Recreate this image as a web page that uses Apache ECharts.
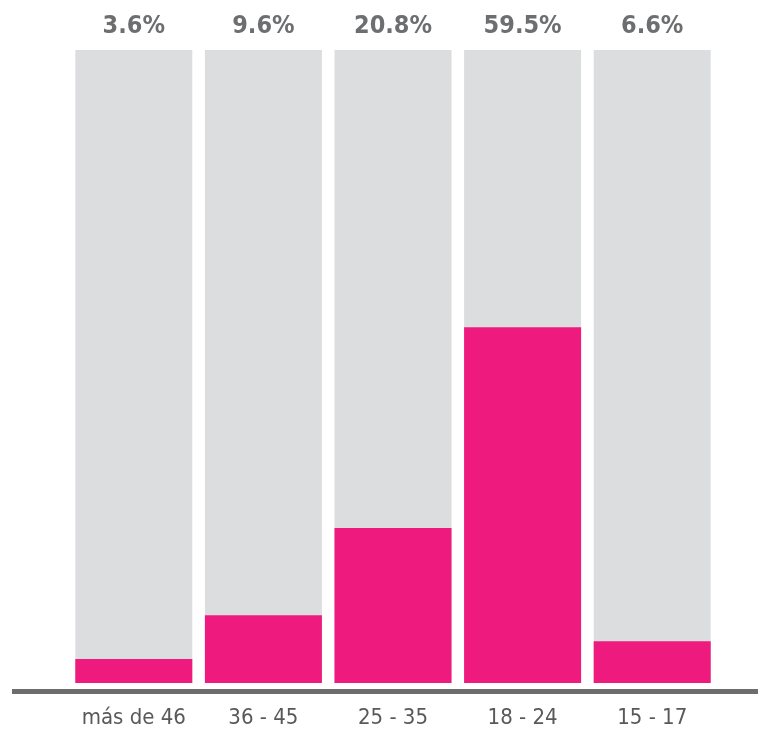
<!DOCTYPE html>
<html>
<head>
<meta charset="utf-8">
<script src="https://cdn.jsdelivr.net/npm/echarts@6/dist/echarts.min.js"></script>
<style>
  html, body { margin: 0; padding: 0; background: #fff; }
  #chart { width: 758px; height: 732px; }
</style>
</head>
<body>
<div id="chart"></div>
<script>
// edades
const categories = ['más de 46', '36 - 45', '25 - 35', '18 - 24', '15 - 17']
// porcentaje que muestra cada etiqueta
const shares = [3.6, 9.6, 20.8, 59.5, 6.6]
// altura de la barra rosa (sobre 100 de la barra gris)
const barHeights = [3.8, 10.7, 24.5, 56.2, 6.6]
const fullBar = [100, 100, 100, 100, 100]

const font = "'DejaVu Sans Condensed', 'DejaVu Sans', sans-serif"

const chart = echarts.init(document.getElementById('chart'))

const option = {
  animation: false,
  grid: {
    left: 69,
    right: 41,
    top: 50,
    bottom: 49
  },
  xAxis: {
    type: 'category',
    data: categories,
    axisLine: { show: false },
    axisTick: { show: false },
    axisLabel: {
      interval: 0,
      margin: 24,
      color: '#58595b',
      fontFamily: font,
      fontSize: 22
    }
  },
  yAxis: {
    type: 'value',
    min: 0,
    max: 100,
    show: false
  },
  series: [
    {
      name: 'total',
      type: 'bar',
      data: fullBar,
      barWidth: 117,
      barGap: '-100%',
      itemStyle: { color: '#dcdddf' },
      label: {
        show: true,
        position: 'top',
        distance: 11,
        color: '#6d6e70',
        fontFamily: font,
        fontWeight: 'bold',
        fontSize: 25,
        formatter: p => shares[p.dataIndex].toFixed(1) + '%'
      }
    },
    {
      name: 'edad',
      type: 'bar',
      data: barHeights,
      barWidth: 117,
      itemStyle: { color: '#ee1a7d' }
    }
  ],
  graphic: [{
    type: 'line',
    shape: { x1: 12, y1: 691.5, x2: 758, y2: 691.5 },
    style: { stroke: '#6d6d6d', lineWidth: 5 }
  }]
}

chart.setOption(option)
</script>
</body>
</html>
